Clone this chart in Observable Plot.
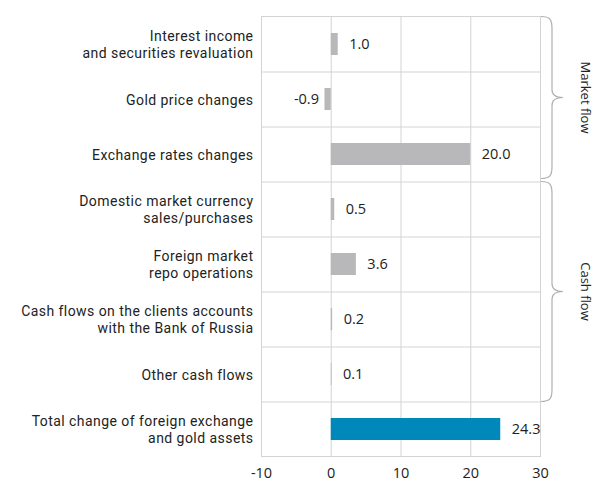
<!DOCTYPE html>
<html>
<head>
<meta charset="utf-8">
<script src="https://cdn.jsdelivr.net/npm/d3@7"></script>
<script src="https://cdn.jsdelivr.net/npm/@observablehq/plot@0.6"></script>
<style>
  body { margin: 0; background: #fff; }
  #chart svg { display: block; }
</style>
</head>
<body>
<div id="chart"></div>
<script>
const categories = [
  "Interest income\nand securities revaluation",
  "Gold price changes",
  "Exchange rates changes",
  "Domestic market currency\nsales/purchases",
  "Foreign market\nrepo operations",
  "Cash flows on the clients accounts\nwith the Bank of Russia",
  "Other cash flows",
  "Total change of foreign exchange\nand gold assets"
];
const values = [1.0, -0.9, 20.0, 0.5, 3.6, 0.2, 0.1, 24.3];
const kinds = ["part", "part", "part", "part", "part", "part", "part", "total"];
const groupOf = ["Market flow", "Market flow", "Market flow", "Cash flow", "Cash flow", "Cash flow", "Cash flow", null];
const groupNames = ["Market flow", "Cash flow"];
const xTicks = [-10, 0, 10, 20, 30];

const rows = categories.map((c, i) => ({cat: c, value: values[i], kind: kinds[i], group: groupOf[i]}));

const W = 596, H = 484;
const mTop = 16, mBottom = 28, mLeft = 261, mRight = 56;
const step = (H - mTop - mBottom) / categories.length;
const gridColor = "#d3d3d3";
const fmt = v => v.toFixed(1);
const valueFont = "'Open Sans', 'Noto Sans', sans-serif";

const chart = Plot.plot({
  width: W,
  height: H,
  marginTop: mTop,
  marginBottom: mBottom,
  marginLeft: mLeft,
  marginRight: mRight,
  style: {fontFamily: valueFont, fontSize: "14.5px", color: "#222", background: "#fff"},
  x: {domain: [xTicks[0], xTicks[xTicks.length - 1]], ticks: xTicks, tickSize: 0, tickPadding: 11, label: null, tickFormat: d => String(d)},
  y: {domain: categories, axis: null, paddingInner: 0.6, paddingOuter: 0.3},
  color: {domain: ["part", "total"], range: ["#b8b8ba", "#0088bb"]},
  marks: [
    Plot.ruleX(xTicks, {stroke: gridColor, strokeWidth: 1}),
    Plot.ruleY(categories.slice(1), {y: d => d, dy: -step / 2, stroke: gridColor, strokeWidth: 1}),
    Plot.frame({stroke: gridColor, strokeWidth: 1}),
    Plot.barX(rows, {x: "value", y: "cat", fill: "kind"}),
    Plot.text(rows.filter(d => d.value >= 0), {
      x: "value", y: "cat", text: d => fmt(d.value),
      textAnchor: "start", dx: 11, fill: "#222", fontSize: 14.5, fontFamily: valueFont
    }),
    Plot.text(rows.filter(d => d.value < 0), {
      x: "value", y: "cat", text: d => fmt(d.value),
      textAnchor: "end", dx: -6, fill: "#222", fontSize: 14.5, fontFamily: valueFont
    }),
    Plot.text(rows, {
      y: "cat", text: "cat", frameAnchor: "left", textAnchor: "end", dx: -8,
      lineHeight: 1.2, fontFamily: "Roboto, sans-serif", fontSize: 14, fill: "#222"
    })
  ]
});

// widen the category labels slightly (the reference face is wider)
const textGroups = chart.querySelectorAll("g[aria-label='text']");
d3.select(textGroups[textGroups.length - 1]).attr("letter-spacing", "0.45px");

document.getElementById("chart").appendChild(chart);

// Group braces on the right, positioned through Plot's y scale
const ys = chart.scale("y");
const band = ys.bandwidth;
const pos = c => ys.apply(c);
const svg = d3.select(chart);
const x0 = W - mRight + 1;
const x1 = x0 + 11;
const g = svg.append("g").attr("fill", "none").attr("stroke", "#b0b0b0").attr("stroke-width", 1.2);
groupNames.forEach(name => {
  const cats = categories.filter((c, i) => groupOf[i] === name);
  const top = pos(cats[0]) + band / 2 - step / 2;
  const bot = pos(cats[cats.length - 1]) + band / 2 + step / 2 - (name === "Market flow" ? 3 : 0);
  const mid = (top + bot) / 2;
  const p = `M${x0},${top} C${x0 + 9},${top} ${x1},${top + 3} ${x1},${top + 12}
    L${x1},${mid - 8} C${x1},${mid - 2} ${x1 + 4},${mid} ${x1 + 11},${mid}
    C${x1 + 4},${mid} ${x1},${mid + 2} ${x1},${mid + 8}
    L${x1},${bot - 12} C${x1},${bot - 3} ${x0 + 9},${bot} ${x0},${bot}`;
  g.append("path").attr("d", p);
  svg.append("text")
    .attr("transform", `translate(${W - 12},${mid}) rotate(90)`)
    .attr("text-anchor", "middle")
    .attr("dominant-baseline", "middle")
    .attr("font-family", valueFont)
    .attr("font-size", 13)
    .attr("fill", "#222")
    .text(name);
});
</script>
</body>
</html>
